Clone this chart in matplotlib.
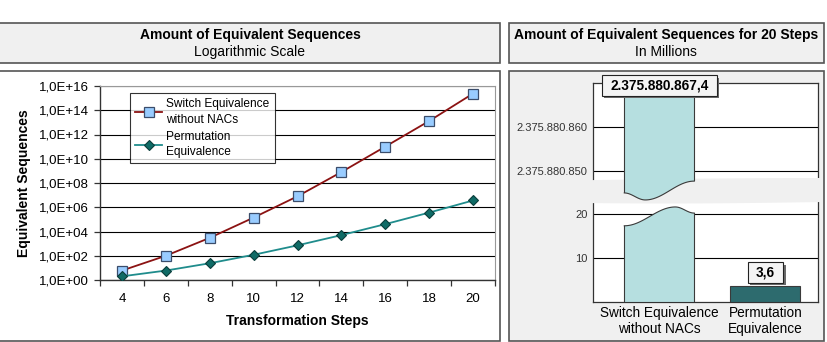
import numpy as np
import matplotlib
matplotlib.use('Agg')
import matplotlib.pyplot as plt
from matplotlib.patches import Rectangle, Polygon
from matplotlib.path import Path
from matplotlib.ticker import FixedLocator, FuncFormatter, NullLocator
import matplotlib.patheffects as pe

plt.rcParams['font.family'] = ['Liberation Sans', 'DejaVu Sans']

# ---------------- data ----------------
steps = [4, 6, 8, 10, 12, 14, 16, 18, 20]
switch_equiv = [6, 1.0e2, 3.0e3, 1.4e5, 8.0e6, 8.0e8, 1.0e11, 1.3e13, 2.3758808674e15]
perm_equiv = [2, 6, 24, 120, 720, 5040, 40320, 362880, 3628800]
series_names = ['Switch Equivalence\nwithout NACs', 'Permutation\nEquivalence']
log_ticks = [1e0, 1e2, 1e4, 1e6, 1e8, 1e10, 1e12, 1e14, 1e16]

bar_categories = ['Switch Equivalence\nwithout NACs', 'Permutation\nEquivalence']
bar_values_millions = [2375880867.4, 3.6]
bar_value_labels = ['2.375.880.867,4', '3,6']
break_ticks = [10, 20, 2375880850, 2375880860]
break_tick_labels = ['10', '20', '2.375.880.850', '2.375.880.860']

BREAK_FROM = 25                 # values above this are on the upper segment
UPPER_BASE = 2375880850         # value shown at the first upper gridline
UPPER_POS = 30                  # axis position of that gridline


def to_axis(v):
    return v if v < BREAK_FROM else (v - UPPER_BASE) + UPPER_POS


# ---------------- figure ----------------
W, H = 827, 342
fig = plt.figure(figsize=(W / 100, H / 100), dpi=100)
fig.patch.set_facecolor('white')


def fx(px):
    return px / W


def fy(py):
    return 1 - py / H


def box(x0, y0, x1, y1, fc, ec='#555555', lw=1.2):
    fig.patches.append(Rectangle((fx(x0), fy(y1)), (x1 - x0) / W, (y1 - y0) / H,
                                 transform=fig.transFigure, fc=fc, ec=ec, lw=lw, zorder=-5))


# title boxes and panels
box(-3, 23, 500, 63, '#f0f0f0')
box(509, 23, 824, 63, '#f0f0f0')
box(-3, 71, 500, 341, 'white')
box(509, 71, 824, 341, '#f0f0f0')

fig.text(fx(250), fy(35), 'Amount of Equivalent Sequences', ha='center', va='center',
         fontsize=10, fontweight='bold')
fig.text(fx(250), fy(52), 'Logarithmic Scale', ha='center', va='center', fontsize=10)
fig.text(fx(666), fy(35), 'Amount of Equivalent Sequences for 20 Steps', ha='center',
         va='center', fontsize=10, fontweight='bold')
fig.text(fx(666), fy(52), 'In Millions', ha='center', va='center', fontsize=10)

# ---------------- left chart ----------------
ax1 = fig.add_axes([fx(100), fy(280), 395 / W, 194 / H])
pos = np.arange(len(steps))
ax1.plot(pos, switch_equiv, color='#8b1212', lw=1.3, marker='s', ms=6.5,
         mfc='#99ccff', mec='#3b4d6b', mew=0.9, label=series_names[0], zorder=3)
ax1.plot(pos, perm_equiv, color='#1f8c8c', lw=1.3, marker='D', ms=5,
         mfc='#0f6b66', mec='#0a3d3b', mew=0.8, label=series_names[1], zorder=3)
ax1.set_yscale('log')
ax1.set_ylim(log_ticks[0], log_ticks[-1])
ax1.yaxis.set_major_locator(FixedLocator(log_ticks))
ax1.yaxis.set_minor_locator(NullLocator())
ax1.yaxis.set_major_formatter(FuncFormatter(
    lambda v, p: '1,0E+%02d' % int(round(np.log10(v)))))
ax1.set_xlim(-0.5, len(steps) - 0.5)
ax1.set_xticks(pos)
ax1.set_xticklabels([str(s) for s in steps])
ax1.xaxis.set_minor_locator(FixedLocator(np.arange(-0.5, len(steps), 1)))
ax1.tick_params(axis='x', which='major', length=0, pad=9, labelsize=9.5)
ax1.tick_params(axis='x', which='minor', length=4, width=0.9, direction='out', color='#333333')
ax1.tick_params(axis='y', which='major', length=4, width=0.9, direction='out',
                pad=4, labelsize=9.5, color='#333333')
ax1.set_axisbelow(True)
ax1.yaxis.grid(True, color='black', lw=0.8)
for s in ['left', 'bottom']:
    ax1.spines[s].set_color('#333333')
    ax1.spines[s].set_linewidth(1.0)
for s in ['top', 'right']:
    ax1.spines[s].set_color('#999999')
    ax1.spines[s].set_linewidth(0.8)
ax1.set_xlabel('Transformation Steps', fontsize=10, fontweight='bold')
ax1.xaxis.set_label_coords(0.5, -0.175)
ax1.set_ylabel('Equivalent Sequences', fontsize=10, fontweight='bold')
ax1.yaxis.set_label_coords(-0.175, 0.5)
leg = ax1.legend(loc='upper left', bbox_to_anchor=(0.076, 0.964), fontsize=8.6,
                 frameon=True, fancybox=False, borderaxespad=0, handlelength=2.2,
                 labelspacing=0.45, borderpad=0.45, handletextpad=0.4)
for t in leg.get_texts():
    t.set_linespacing(1.35)
leg.get_frame().set_edgecolor('black')
leg.get_frame().set_linewidth(0.8)

# ---------------- right chart ----------------
ax2 = fig.add_axes([fx(593), fy(302), 225 / W, 219 / H])
bpos = np.arange(len(bar_categories))
bw = 0.66
heights = [to_axis(v) for v in bar_values_millions]
bars = ax2.bar(bpos, heights, width=bw, color=['#b6dfe0', '#2d6b6e'],
               edgecolor='#3a3a3a', linewidth=0.8, zorder=4)
ax2.set_xlim(-0.625, 1.497)
ax2.set_ylim(0, 50)
ax2.yaxis.set_major_locator(FixedLocator([to_axis(v) for v in break_ticks]))
ax2.set_yticklabels(break_tick_labels)
ax2.set_xticks(bpos)
ax2.set_xticklabels(bar_categories)
ax2.tick_params(axis='y', length=0, pad=4, labelsize=8, labelcolor='#333333')
ax2.tick_params(axis='x', length=0, pad=3, labelsize=9.8)
ax2.set_axisbelow(True)
ax2.yaxis.grid(True, color='black', lw=0.8)
for s in ax2.spines.values():
    s.set_color('#333333')
    s.set_linewidth(0.9)

# break band across the panel
bx = np.linspace(510, 823, 60)
bt = (bx - 510) / 313
band_top = 181.5 - 3.5 * np.sin(np.pi / 2 * bt)
band_bot = 202 + 1.5 * np.sin(np.pi * bt)
band_pts = np.column_stack([np.concatenate([bx, bx[::-1]]),
                            np.concatenate([band_top, band_bot[::-1]])])
band_pts = np.column_stack([fx(band_pts[:, 0]), fy(band_pts[:, 1])])
ax2.add_artist(Polygon(band_pts, closed=True, transform=fig.transFigure,
                       fc='#f0f0f0', ec='none', clip_on=False, zorder=3))

# wavy cut of the broken bar
big = bars[0]
x0 = big.get_x()
x1 = x0 + big.get_width()


def upper_curve(t):
    t = np.clip(t, 0, 1)
    return np.where(t < 0.3,
                    23.3 + 1.6 * (1 - np.cos(np.pi * (0.3 - t) / 0.3)) / 2,
                    25.45 - 2.15 * np.cos(np.pi * (t - 0.3) / 0.7))


def lower_curve(t):
    t = np.clip(t, 0, 1)
    return np.where(t <= 0.73,
                    17.4 + 4.3 * (1 - np.cos(np.pi * t / 0.73)) / 2,
                    21.7 - 1.4 * (1 - np.cos(np.pi * (t - 0.73) / 0.27)) / 2)


xe = np.linspace(x0 - 0.05, x1 + 0.05, 80)
te = (xe - x0) / (x1 - x0)
low_poly = [(xe[0], -5), (xe[-1], -5)] + list(zip(xe[::-1], lower_curve(te[::-1])))
up_poly = list(zip(xe, upper_curve(te))) + [(xe[-1], 80), (xe[0], 80)]
verts, codes = [], []
for poly in (low_poly, up_poly):
    verts += poly + [poly[0]]
    codes += [Path.MOVETO] + [Path.LINETO] * (len(poly) - 1) + [Path.CLOSEPOLY]
big.set_clip_path(Path(verts, codes), ax2.transData)

xc = np.linspace(x0, x1, 60)
tc = (xc - x0) / (x1 - x0)
ax2.plot(xc, upper_curve(tc), color='#3a3a3a', lw=0.8, zorder=5)
ax2.plot(xc, lower_curve(tc), color='#3a3a3a', lw=0.8, zorder=5)

# value labels (with a drop shadow on the box)
offsets = [6.5, 10]
for i, (h, lab) in enumerate(zip(heights, bar_value_labels)):
    ann = ax2.annotate(lab, xy=(bpos[i], h), xytext=(0, offsets[i]),
                       textcoords='offset points', ha='center', va='center',
                       fontsize=9.8, fontweight='bold', color='black',
                       bbox=dict(boxstyle='square,pad=0.6', mutation_aspect=0.4,
                                 fc='#f4f4f4', ec='#222222', lw=0.8),
                       annotation_clip=False, zorder=7)
    ann.get_bbox_patch().set_path_effects([
        pe.SimplePatchShadow(offset=(1.8, -1.8), shadow_rgbFace='#6a6a6a', alpha=1.0),
        pe.Normal()])

fig.savefig('out.png', dpi=100)
